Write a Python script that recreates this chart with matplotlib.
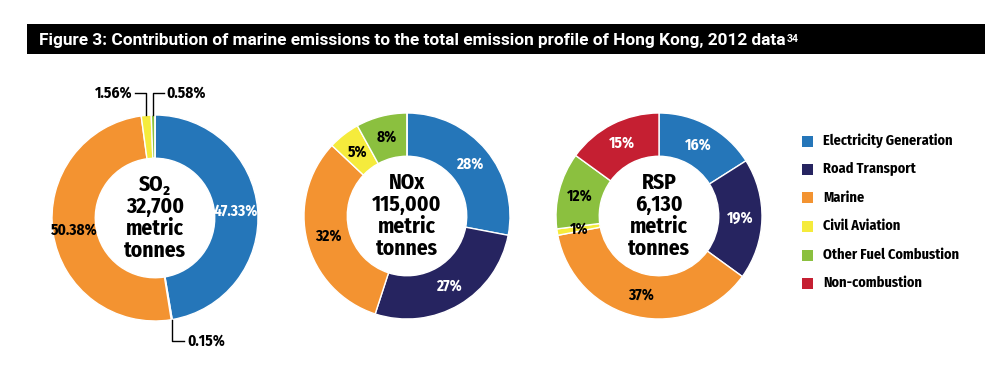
import matplotlib
matplotlib.use("Agg")
from matplotlib import pyplot as plt
from matplotlib.patches import Rectangle
import numpy as np

categories = ["Electricity Generation", "Road Transport", "Marine",
              "Civil Aviation", "Other Fuel Combustion", "Non-combustion"]
colors = ["#2576b9", "#262460", "#f39331", "#f5eb3c", "#8bc03f", "#c51f32"]
text_colors = ["white", "white", "black", "black", "black", "white"]

so2_values = [47.33, 0.15, 50.38, 1.56, 0.58, 0.0]
nox_values = [28, 27, 32, 5, 8, 0]
rsp_values = [16, 19, 37, 1, 12, 15]

so2_labels = ["47.33%", "0.15%", "50.38%", "1.56%", "0.58%", ""]
nox_labels = ["28%", "27%", "32%", "5%", "8%", ""]
rsp_labels = ["16%", "19%", "37%", "1%", "12%", "15%"]

W, H = 995, 374
NARROW = ["Fira Sans Condensed", "PT Sans Narrow", "Roboto Condensed",
          "Asap Condensed", "DejaVu Sans"]
TITLE_FONT = ["Roboto", "DejaVu Sans"]

fig = plt.figure(figsize=(W / 100, H / 100), dpi=100)

# title bar
fig.add_artist(Rectangle((27 / W, 1 - 54 / H), (985 - 27) / W, 30 / H,
                         transform=fig.transFigure, facecolor="black", edgecolor="none"))
title = fig.text(39 / W, 1 - 40 / H,
                 "Figure 3: Contribution of marine emissions to the total emission profile of Hong Kong, 2012 data",
                 color="white", fontsize=12.4, fontweight="bold", family=TITLE_FONT,
                 va="center", ha="left")
renderer = fig.canvas.get_renderer()
bb = title.get_window_extent(renderer)
fig.text(bb.x1 / W + 1 / W, bb.y1 / H - 1.5 / H, "34", color="white", fontsize=7.5,
         fontweight="bold", family=TITLE_FONT, va="top", ha="left")

R = 103  # outer radius in px
K = 1.45


def donut(cx, cy, values, labels, center_text, small=()):
    side = 2 * R * K
    ax = fig.add_axes([(cx - side / 2) / W, 1 - (cy + side / 2) / H, side / W, side / H])
    wedges, _ = ax.pie(values, colors=colors, startangle=90, counterclock=False, radius=1,
                       wedgeprops=dict(width=0.42, edgecolor="white", linewidth=1))
    ax.set_xlim(-K, K)
    ax.set_ylim(-K, K)
    ax.set_aspect("equal")
    ax.axis("off")
    for i, w in enumerate(wedges):
        if not labels[i] or i in small:
            continue
        ang = np.deg2rad((w.theta1 + w.theta2) / 2)
        ax.text(0.79 * np.cos(ang), 0.79 * np.sin(ang), labels[i], ha="center", va="center",
                color=text_colors[i], fontsize=11, fontweight="bold", family=NARROW)
    ax.text(0, 0, center_text, ha="center", va="center", fontsize=15.5, fontweight="bold",
            family=NARROW, linespacing=1.05)
    return ax, wedges


# SO2
ax, wedges = donut(155, 218, so2_values, so2_labels,
                   "SO₂\n32,700\nmetric\ntonnes", small=(1, 3, 4))
for i, side in [(3, -1), (4, 1)]:
    w = wedges[i]
    x = np.cos(np.deg2rad((w.theta1 + w.theta2) / 2))
    ax.plot([x, x, x + side * 0.11], [1.0, 1.21, 1.21], color="black", lw=1)
    ax.text(x + side * 0.13, 1.21, so2_labels[i], ha="right" if side < 0 else "left",
            va="center", fontsize=11, fontweight="bold", family=NARROW)
w = wedges[1]
a = np.deg2rad((w.theta1 + w.theta2) / 2)
x, y = np.cos(a), np.sin(a)
ax.plot([x, x, x + 0.12], [y, -1.19, -1.19], color="black", lw=1)
ax.text(x + 0.15, -1.19, so2_labels[1], ha="left", va="center", fontsize=11,
        fontweight="bold", family=NARROW)

# NOx
donut(407, 216, nox_values, nox_labels, "NOx\n115,000\nmetric\ntonnes")
# RSP
donut(659, 216, rsp_values, rsp_labels, "RSP\n6,130\nmetric\ntonnes")

# legend
ys = [141, 169, 198, 226, 255, 283]
for cat, col, y in zip(categories, colors, ys):
    fig.add_artist(Rectangle((802 / W, 1 - (y + 5.5) / H), 11 / W, 11 / H,
                             transform=fig.transFigure, facecolor=col, edgecolor="none"))
    fig.text(823 / W, 1 - y / H, cat, ha="left", va="center", fontsize=10.3,
             fontweight="bold", family=NARROW)

fig.savefig("out.png", dpi=100)
